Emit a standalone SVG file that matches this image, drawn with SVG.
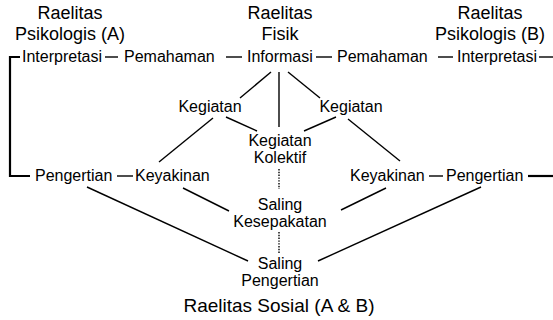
<svg xmlns="http://www.w3.org/2000/svg" width="553" height="320" viewBox="0 0 553 320">
<style>
text{font-family:"Liberation Sans",Arial,sans-serif;fill:#000}
.h{font-size:18px;text-anchor:middle}
.b{font-size:19px;text-anchor:middle}
.t{font-size:16px}
.c{font-size:16px;text-anchor:middle}
.ln{stroke:#000;stroke-width:1.4;fill:none}
.th{stroke:#000;stroke-width:2.2;fill:none}
.dt{stroke:#000;stroke-width:1.4;stroke-dasharray:1.4 1.4;fill:none}
</style>
<rect width="553" height="320" fill="#fff"/>
<g id="connectors">
<polyline class="th" points="20,57 10,57 10,176 30,176"/>
<line class="th" x1="528" y1="176" x2="553" y2="176"/>
<line class="ln" x1="105" y1="57" x2="118" y2="57"/>
<line class="ln" x1="226" y1="57" x2="242" y2="57"/>
<line class="ln" x1="316" y1="57" x2="332" y2="57"/>
<line class="ln" x1="438" y1="57" x2="453" y2="57"/>
<line class="ln" x1="539" y1="57" x2="553" y2="57"/>
<line class="ln" x1="117" y1="176" x2="133" y2="176"/>
<line class="ln" x1="429" y1="176" x2="443" y2="176"/>
<line class="ln" x1="271" y1="72" x2="240" y2="98"/>
<line class="ln" x1="279" y1="72" x2="279" y2="127"/>
<line class="ln" x1="288" y1="72" x2="320" y2="98"/>
<line class="ln" x1="213" y1="118" x2="159" y2="162"/>
<line class="ln" x1="226" y1="117" x2="257" y2="131"/>
<line class="ln" x1="336" y1="117" x2="304" y2="131"/>
<line class="ln" x1="348" y1="119" x2="400" y2="161"/>
<line class="ln" x1="183" y1="188" x2="229" y2="211"/>
<line class="ln" x1="386" y1="188" x2="341" y2="210"/>
<line class="ln" x1="87" y1="187" x2="248" y2="261"/>
<line class="ln" x1="481" y1="187" x2="318" y2="261"/>
<line class="dt" x1="279" y1="169" x2="279" y2="189"/>
<line class="dt" x1="279" y1="232" x2="279" y2="253"/>
</g>
<g id="realitas-a"><text class="h" x="70" y="19">Raelitas</text><text class="h" x="70" y="39.5">Psikologis (A)</text></g>
<g id="realitas-fisik"><text class="h" x="280" y="19">Raelitas</text><text class="h" x="280" y="39.5">Fisik</text></g>
<g id="realitas-b"><text class="h" x="490" y="19">Raelitas</text><text class="h" x="490" y="39.5">Psikologis (B)</text></g>
<g id="interpretasi-a"><text class="t" x="22" y="62">Interpretasi</text></g>
<g id="pemahaman-a"><text class="t" x="124" y="62">Pemahaman</text></g>
<g id="informasi"><text class="t" x="247" y="62">Informasi</text></g>
<g id="pemahaman-b"><text class="t" x="337" y="62">Pemahaman</text></g>
<g id="interpretasi-b"><text class="t" x="457" y="62">Interpretasi</text></g>
<g id="kegiatan-a"><text class="c" x="210" y="112">Kegiatan</text></g>
<g id="kegiatan-b"><text class="c" x="351" y="112">Kegiatan</text></g>
<g id="kegiatan-kolektif"><text class="c" x="280" y="146">Kegiatan</text><text class="c" x="280" y="163">Kolektif</text></g>
<g id="pengertian-a"><text class="t" x="35" y="181">Pengertian</text></g>
<g id="keyakinan-a"><text class="t" x="135" y="181">Keyakinan</text></g>
<g id="keyakinan-b"><text class="t" x="350" y="181">Keyakinan</text></g>
<g id="pengertian-b"><text class="t" x="446" y="181">Pengertian</text></g>
<g id="saling-kesepakatan"><text class="c" x="280" y="210">Saling</text><text class="c" x="280" y="227">Kesepakatan</text></g>
<g id="saling-pengertian"><text class="c" x="280" y="269">Saling</text><text class="c" x="280" y="286">Pengertian</text></g>
<g id="realitas-sosial"><text class="b" x="279" y="312">Raelitas Sosial (A &amp; B)</text></g>
</svg>
